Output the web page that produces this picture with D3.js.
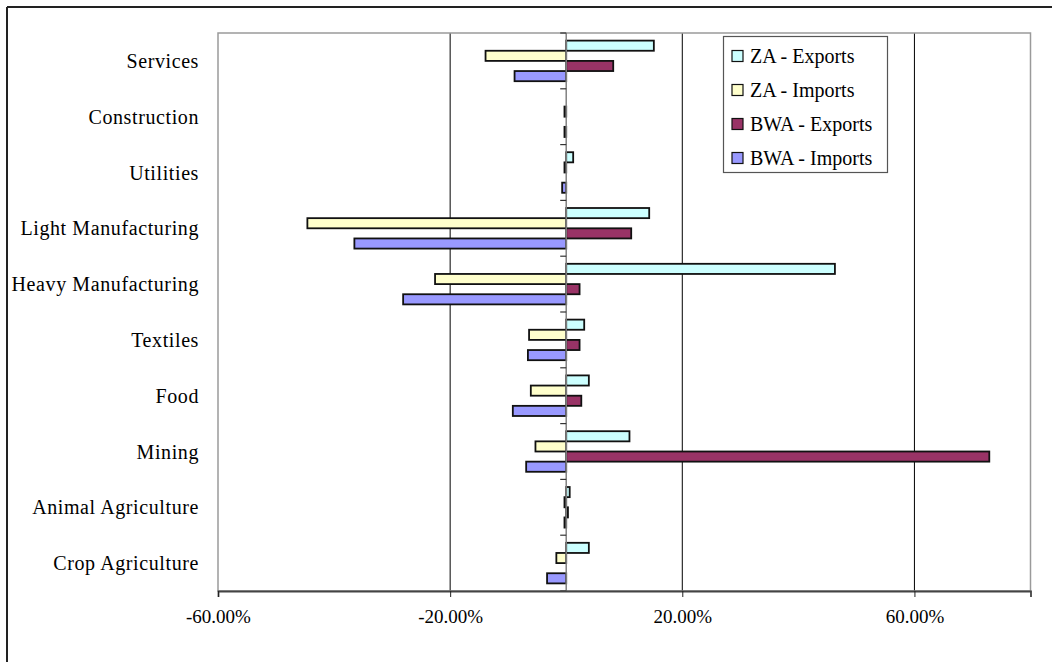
<!DOCTYPE html>
<html>
<head>
<meta charset="utf-8">
<script src="https://cdn.jsdelivr.net/npm/d3@7/dist/d3.min.js"></script>
<style>
  html, body { margin: 0; padding: 0; background: #fff; }
  svg { display: block; }
  text { font-family: "Liberation Serif", "Times New Roman", serif; fill: #000; }
</style>
</head>
<body>
<svg id="chart" width="1052" height="662"></svg>
<script>
const categories = ["Services", "Construction", "Utilities", "Light Manufacturing", "Heavy Manufacturing",
                    "Textiles", "Food", "Mining", "Animal Agriculture", "Crop Agriculture"];
const seriesNames = ["ZA - Exports", "ZA - Imports", "BWA - Exports", "BWA - Imports"];
const zaExports  = [15.1, 0,    1.2,  14.3,  46.3,  3.1,  3.9,  10.9,  0.6,  3.9];
const zaImports  = [-13.9, -0.3, -0.3, -44.6, -22.6, -6.4, -6.1, -5.3, -0.3, -1.7];
const bwaExports = [8.1,  0,    0,    11.2,  2.3,   2.3,  2.6,  72.9,  0.3,  0];
const bwaImports = [-8.9, -0.3, -0.7, -36.5, -28.1, -6.6, -9.2, -6.9, -0.3, -3.3];
const xTicks = [-60, -20, 20, 60];
const seriesColors = ["#CCFFFF", "#FFFFCC", "#993366", "#9999FF"];

const seriesValues = [zaExports, zaImports, bwaExports, bwaImports];

const svg = d3.select("#chart");
const plot = { left: 218, right: 1030.5, top: 33, bottom: 591 };

// outer chart border (top and left visible)
svg.append("line").attr("x1", 7).attr("y1", 7).attr("x2", 1052).attr("y2", 7)
  .attr("stroke", "#222").attr("stroke-width", 2);
svg.append("line").attr("x1", 7).attr("y1", 7).attr("x2", 7).attr("y2", 662)
  .attr("stroke", "#222").attr("stroke-width", 2);

const x = d3.scaleLinear().domain([-60, 80]).range([plot.left, plot.right]);
const y = d3.scaleBand().domain(categories).range([plot.top, plot.bottom])
  .paddingInner(1.5 / 5.5).paddingOuter(0.75 / 5.5);
const ySub = d3.scaleBand().domain(seriesNames).range([0, y.bandwidth()]);

// gridlines
svg.append("g").selectAll("line").data(xTicks.filter(t => t > -60)).join("line")
  .attr("x1", d => x(d)).attr("x2", d => x(d))
  .attr("y1", plot.top).attr("y2", plot.bottom)
  .attr("stroke", "#000").attr("stroke-width", 1);

// plot area border
svg.append("rect").attr("x", plot.left).attr("y", plot.top)
  .attr("width", plot.right - plot.left).attr("height", plot.bottom - plot.top)
  .attr("fill", "none").attr("stroke", "#9a9a9a").attr("stroke-width", 1.5);

// bars
const barData = [];
categories.forEach((c, i) => {
  seriesNames.forEach((s, j) => {
    const v = seriesValues[j][i];
    if (v !== 0) barData.push({ c, s, v, color: seriesColors[j] });
  });
});
svg.append("g").selectAll("rect").data(barData).join("rect")
  .attr("x", d => Math.min(x(0), x(d.v)))
  .attr("y", d => y(d.c) + ySub(d.s))
  .attr("width", d => Math.abs(x(d.v) - x(0)))
  .attr("height", ySub.bandwidth())
  .attr("fill", d => d.color)
  .attr("stroke", "#111").attr("stroke-width", 1.8);

// category axis at zero
svg.append("line").attr("x1", x(0)).attr("x2", x(0))
  .attr("y1", plot.top).attr("y2", plot.bottom)
  .attr("stroke", "#808080").attr("stroke-width", 1.5);
const step = y.step();
svg.append("g").selectAll("line").data(d3.range(categories.length + 1)).join("line")
  .attr("x1", x(0) - 6).attr("x2", x(0))
  .attr("y1", i => plot.top + i * step).attr("y2", i => plot.top + i * step)
  .attr("stroke", "#333").attr("stroke-width", 1.2);

// category labels
svg.append("g").selectAll("text").data(categories).join("text")
  .attr("x", 199).attr("y", d => y(d) + y.bandwidth() / 2 + 7)
  .attr("text-anchor", "end").attr("font-size", 20)
  .attr("letter-spacing", "0.6px")
  .text(d => d);

// value axis
const xAxis = d3.axisBottom(x).tickValues(xTicks).tickSize(6).tickPadding(13)
  .tickFormat(d => d.toFixed(2) + "%");
const gx = svg.append("g").attr("transform", `translate(0,${plot.bottom})`).call(xAxis);
gx.select(".domain").attr("stroke", "#444").attr("stroke-width", 1.8);
gx.selectAll(".tick line").attr("stroke", "#222");
gx.selectAll(".tick text").attr("font-size", 19)
  .attr("font-family", "Liberation Serif, Times New Roman, serif").attr("fill", "#000")
  .attr("dy", "0.71em");

// legend
const lg = svg.append("g");
lg.append("rect").attr("x", 723.5).attr("y", 36.5).attr("width", 164).attr("height", 136)
  .attr("fill", "#fff").attr("stroke", "#555").attr("stroke-width", 1.2);
const items = lg.selectAll("g.item").data(seriesNames).join("g").attr("class", "item")
  .attr("transform", (d, i) => `translate(0, ${56 + i * 34})`);
items.append("rect").attr("x", 732).attr("y", -5.5).attr("width", 11).attr("height", 11)
  .attr("fill", (d, i) => seriesColors[i]).attr("stroke", "#111").attr("stroke-width", 1.2);
items.append("text").attr("x", 750).attr("y", 7).attr("font-size", 20).text(d => d);
</script>
</body>
</html>
